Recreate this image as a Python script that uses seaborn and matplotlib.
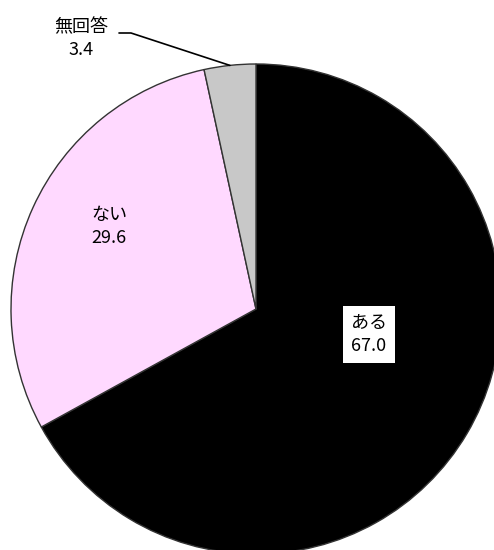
import matplotlib.pyplot as plt
import numpy as np
import seaborn as sns

labels = ["ある", "ない", "無回答"]
values = [67.0, 29.6, 3.4]
colors = ["#000000", "#FFD9FF", "#C8C8C8"]

sns.set_theme(style="white")
plt.rcParams["font.family"] = ["Noto Sans CJK JP", "DejaVu Sans"]

W, H = 494, 550
cx, cy, r = 256, 309, 245
fig = plt.figure(figsize=(W / 100, H / 100), dpi=100)
ax = fig.add_axes([(cx - r) / W, (H - cy - r) / H, 2 * r / W, 2 * r / H])

wedges, _ = ax.pie(values, colors=colors, startangle=90, counterclock=False,
                   radius=1, wedgeprops=dict(edgecolor="#333333", linewidth=1.0))
ax.set_xlim(-1, 1)
ax.set_ylim(-1, 1)
ax.set_aspect("equal")
ax.axis("off")
for w in wedges:
    w.set_clip_on(False)

fs = 13
# ある
ax.text(0.461, -0.105, f"{labels[0]}\n{values[0]:.1f}", ha="center", va="center",
        fontsize=fs, linespacing=1.35, color="black",
        bbox=dict(facecolor="white", edgecolor="none", boxstyle="square,pad=0.45"))
# ない
ax.text(-0.600, 0.335, f"{labels[1]}\n{values[1]:.1f}", ha="center", va="center",
        fontsize=fs, linespacing=1.35, color="black")
# 無回答 with leader line
ax.text(-0.714, 1.105, f"{labels[2]}\n{values[2]:.1f}", ha="center", va="center",
        fontsize=fs, linespacing=1.35, color="black", clip_on=False)
ang = np.deg2rad(90 - 360 * (values[0] + values[1] + values[2] / 2) / 100)
ex, ey = np.cos(ang), np.sin(ang)
x0 = (119 - cx) / r
x1 = (131 - cx) / r
yl = (cy - 33) / r
ax.plot([x0, x1, ex], [yl, yl, ey], color="black", linewidth=1.2, clip_on=False)

fig.savefig("out.png", dpi=100)
